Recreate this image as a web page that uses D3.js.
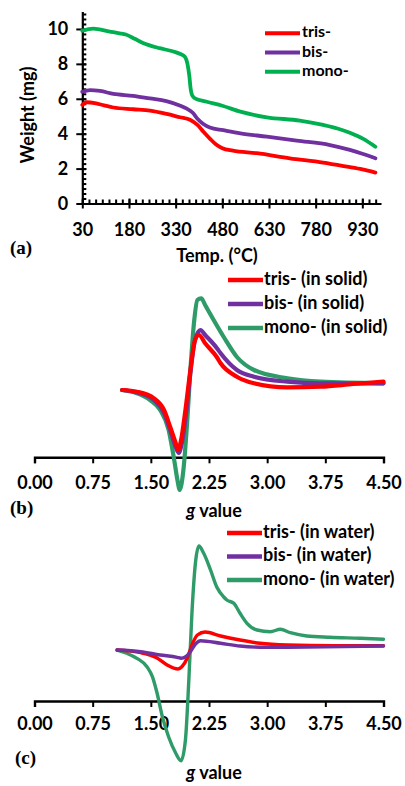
<!DOCTYPE html>
<html>
<head>
<meta charset="utf-8">
<script src="https://cdn.jsdelivr.net/npm/d3@7"></script>
<style>
  body { margin: 0; background: #fff; }
  svg { display: block; font-family: Lato, "Open Sans", sans-serif; font-weight: 700; }
</style>
</head>
<body>
<div id="container"></div>
<script>
// ---- data ----
// (a) TGA, [temperature °C, weight mg]
const tgaTris = [[30,5.65],[45,5.8],[70,5.75],[100,5.62],[130,5.5],[194,5.4],[248,5.32],[301,5.13],[344,4.94],[376,4.8],[400,4.5],[420,4.1],[440,3.72],[460,3.38],[480,3.17],[514,3.03],[591,2.88],[697,2.59],[804,2.34],[880,2.11],[930,1.95],[972,1.77]];
const tgaBis = [[30,6.4],[55,6.5],[87,6.45],[130,6.28],[193,6.17],[247,6.02],[300,5.87],[343,5.62],[364,5.45],[385,5.2],[400,4.85],[419,4.55],[440,4.35],[483,4.2],[538,4.02],[623,3.83],[719,3.6],[826,3.35],[890,3.07],[930,2.85],[972,2.59]];
const tgaMono = [[30,9.9],[65,10.02],[118,9.85],[150,9.75],[170,9.68],[200,9.42],[225,9.2],[278,8.9],[320,8.72],[347,8.55],[360,8.4],[368,8.0],[374,7.3],[378,6.6],[383,6.2],[392,6.02],[430,5.83],[480,5.6],[538,5.26],[623,4.94],[729,4.75],[804,4.5],[850,4.3],[890,4.05],[933,3.7],[972,3.25]];
const tempTicks = [30, 180, 330, 480, 630, 780, 930];
const weightTicks = [0, 2, 4, 6, 8, 10];
const tgaNames = ["tris-", "bis-", "mono-"];

// (b) ESR in solid, [g value, intensity a.u.]
const solidTris = [[1.13,0],[1.32,-1.7],[1.54,-8.3],[1.67,-20],[1.75,-37],[1.82,-53],[1.85,-60],[1.89,-50],[1.946,-20],[2.01,20],[2.07,50],[2.12,55],[2.2,46.7],[2.35,33],[2.4,26.7],[2.61,13.3],[2.83,6.7],[3.26,2.7],[3.69,3.3],[4.11,6],[4.5,8.3]];
const solidBis = [[1.13,0],[1.32,-2.5],[1.54,-10],[1.67,-23],[1.75,-40],[1.82,-57],[1.86,-63],[1.9,-53],[1.96,-20],[2.01,17],[2.07,50],[2.14,60],[2.2,55],[2.35,42],[2.4,36.7],[2.61,20],[2.83,13.3],[3.26,8.3],[3.69,6.7],[4.5,6.7]];
const solidMono = [[1.13,0],[1.32,-3.3],[1.49,-10],[1.62,-20],[1.73,-40],[1.795,-67],[1.85,-93],[1.87,-100],[1.92,-80],[1.97,-30],[2.01,20],[2.06,70],[2.1,90],[2.15,91.7],[2.2,85],[2.31,70],[2.44,53],[2.61,33],[2.83,20],[3.26,11.7],[3.69,8.3],[4.5,6.7]];
const solidNames = ["tris- (in solid)", "bis- (in solid)", "mono- (in solid)"];

// (c) ESR in water, [g value, intensity a.u.]
const waterTris = [[1.065,0],[1.37,-2.7],[1.58,-8],[1.71,-15],[1.85,-19],[1.9,-16.7],[1.97,-8],[2.03,5],[2.1,15],[2.2,18],[2.4,14],[2.65,10],[2.91,6.7],[3.26,5],[3.86,4.3],[4.5,4.3]];
const waterBis = [[1.065,0],[1.37,-1.7],[1.62,-5],[1.84,-7.3],[1.89,-8.3],[1.95,-6.7],[2.01,-1.7],[2.075,6],[2.14,9.3],[2.4,6.7],[2.65,4],[3.0,2.7],[3.5,3],[4.5,4]];
const waterMono = [[1.065,0],[1.19,-3.3],[1.32,-8.3],[1.45,-16.7],[1.52,-26.7],[1.58,-43],[1.65,-67],[1.73,-87],[1.82,-103],[1.89,-110.7],[1.946,-90],[1.99,-30],[2.03,37],[2.075,87],[2.12,104],[2.18,97],[2.27,80],[2.35,63],[2.44,53],[2.48,50],[2.57,46.7],[2.65,36.7],[2.74,26.7],[2.87,20],[3.04,18.3],[3.17,20.7],[3.3,17.3],[3.51,14],[3.81,12.7],[4.2,11.7],[4.5,10.7]];
const waterNames = ["tris- (in water)", "bis- (in water)", "mono- (in water)"];

const gTicks = [0, 0.75, 1.5, 2.25, 3.0, 3.75, 4.5];

const RED = "#ff0000", PURPLE = "#7030a0", GREEN_A = "#00b050", GREEN = "#2e9b68";

const W = 405, H = 786;
const svg = d3.create("svg").attr("width", W).attr("height", H).attr("viewBox", `0 0 ${W} ${H}`);

// ================= (a) TGA =================
const xA = d3.scaleLinear().domain([30, 990]).range([82.3, 381]);
const yA = d3.scaleLinear().domain([0, 11]).range([203.5, 11.5]);
const gA = svg.append("g");

// minor ticks (inside)
const minorT = d3.range(0, 45).map(i => 30 + i * 150 / 7).filter(v => v <= 990);
gA.append("g").attr("transform", `translate(0,${yA(0)})`)
  .call(d3.axisBottom(xA).tickValues(minorT).tickSize(-4).tickFormat(""))
  .call(g => g.select(".domain").remove());
const minorW = d3.range(0, 40).map(i => i * 2 / 7).filter(v => v <= 11);
gA.append("g").attr("transform", `translate(${xA(30)},0)`)
  .call(d3.axisLeft(yA).tickValues(minorW).tickSize(-4).tickFormat(""))
  .call(g => g.select(".domain").remove());

const xAxA = gA.append("g").attr("transform", `translate(0,${yA(0)})`)
  .call(d3.axisBottom(xA).tickValues(tempTicks).tickSizeInner(5).tickSizeOuter(0).tickPadding(15));
xAxA.selectAll(".tick line").attr("y1", -5);
const yAxA = gA.append("g").attr("transform", `translate(${xA(30)},0)`)
  .call(d3.axisLeft(yA).tickValues(weightTicks).tickSizeInner(6).tickSizeOuter(0).tickPadding(8));
yAxA.selectAll(".tick line").attr("x1", 4);

gA.selectAll(".domain").attr("stroke-width", 2.2);
gA.selectAll(".tick line").attr("stroke-width", 2);
gA.selectAll(".tick text").attr("font-size", 18).attr("font-family", "Lato").attr("font-weight", 700).attr("fill", "#000");

const lineA = d3.line().x(d => xA(d[0])).y(d => yA(d[1])).curve(d3.curveMonotoneX);
[[tgaMono, GREEN_A], [tgaBis, PURPLE], [tgaTris, RED]].forEach(([data, c]) => {
  gA.append("path").datum(data).attr("d", lineA).attr("fill", "none")
    .attr("stroke", c).attr("stroke-width", 3.8).attr("stroke-linejoin", "round").attr("stroke-linecap", "round");
});

gA.append("text").attr("transform", "translate(29,115) rotate(-90)")
  .attr("text-anchor", "middle").attr("dominant-baseline", "middle").attr("font-size", 18).text("Weight (mg)");
gA.append("text").attr("x", 217).attr("y", 257).attr("text-anchor", "middle")
  .attr("dominant-baseline", "middle").attr("font-size", 18).text("Temp. (°C)");
gA.append("text").attr("x", 10).attr("y", 250).attr("dominant-baseline", "middle")
  .attr("font-family", "Liberation Serif").attr("font-size", 19).text("(a)");

const legA = gA.append("g");
[RED, PURPLE, GREEN_A].forEach((c, i) => {
  const y = 33.3 + i * 19.2;
  legA.append("line").attr("x1", 265).attr("x2", 300).attr("y1", y).attr("y2", y).attr("stroke", c).attr("stroke-width", 4);
  legA.append("text").attr("x", 302).attr("y", y).attr("dominant-baseline", "middle").attr("font-size", 16).text(tgaNames[i]);
});

// ================= (b), (c) ESR =================
function esrPanel(opt) {
  const g = svg.append("g");
  const x = d3.scaleLinear().domain([0, 4.5]).range([34.5, 383.5]);
  const y = d3.scaleLinear().domain(opt.yDomain).range(opt.yRange);
  const ax = g.append("g").attr("transform", `translate(0,${opt.axisY})`)
    .call(d3.axisBottom(x).tickValues(gTicks).tickSizeInner(6).tickSizeOuter(6).tickPadding(opt.pad).tickFormat(d3.format(".2f")));
  ax.select(".domain").attr("stroke-width", 2.4);
  ax.selectAll(".tick line").attr("stroke-width", 2);
  ax.selectAll(".tick text").attr("font-size", 18).attr("font-family", "Lato").attr("font-weight", 700).attr("fill", "#000");

  const line = d3.line().x(d => x(d[0])).y(d => y(d[1])).curve(d3.curveMonotoneX);
  opt.series.forEach(([data, c]) => {
    g.append("path").datum(data).attr("d", line).attr("fill", "none")
      .attr("stroke", c).attr("stroke-width", opt.sw).attr("stroke-linejoin", "round").attr("stroke-linecap", "round");
  });

  const gv = g.append("text").attr("x", 214).attr("y", opt.gY).attr("text-anchor", "middle")
    .attr("dominant-baseline", "middle").attr("font-size", 18);
  gv.append("tspan").attr("font-style", "italic").text("g");
  gv.append("tspan").text(" value");

  g.append("text").attr("x", opt.labX).attr("y", opt.labY).attr("dominant-baseline", "middle")
    .attr("font-family", "Liberation Serif").attr("font-size", 19).text(opt.label);

  [RED, PURPLE, GREEN].forEach((c, i) => {
    const yy = opt.legY + i * opt.legDy;
    g.append("line").attr("x1", opt.legX).attr("x2", opt.legX + 35).attr("y1", yy).attr("y2", yy)
      .attr("stroke", c).attr("stroke-width", 4.5);
    g.append("text").attr("x", opt.legX + 36).attr("y", yy).attr("dominant-baseline", "middle")
      .attr("font-size", 18).text(opt.names[i]);
  });
}

esrPanel({
  axisY: 457.3, pad: 13, yDomain: [-67, 120], yRange: [457, 270], sw: 4.2,
  series: [[solidMono, GREEN], [solidBis, PURPLE], [solidTris, RED]],
  gY: 512, label: "(b)", labX: 10, labY: 510,
  legX: 228, legY: 280, legDy: 24, names: solidNames
});

esrPanel({
  axisY: 701, pad: 10, yDomain: [-51, 130], yRange: [701, 520], sw: 3.4,
  series: [[waterMono, GREEN], [waterTris, RED], [waterBis, PURPLE]],
  gY: 774, label: "(c)", labX: 15, labY: 760,
  legX: 227, legY: 533, legDy: 23.5, names: waterNames
});

document.getElementById("container").append(svg.node());
</script>
</body>
</html>
